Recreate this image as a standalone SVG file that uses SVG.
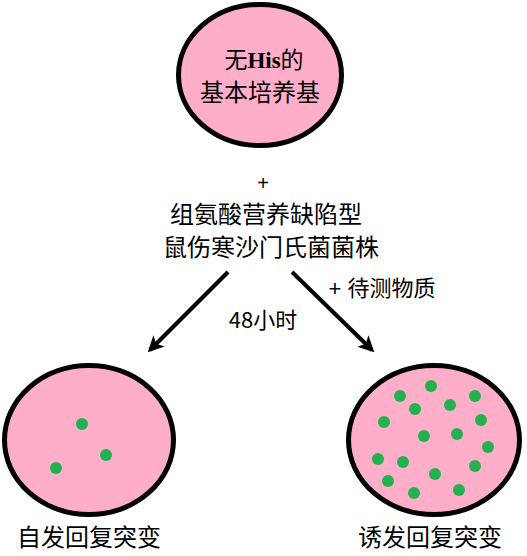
<svg xmlns="http://www.w3.org/2000/svg" width="527" height="556" viewBox="0 0 527 556">
<style>
.dish{fill:#FFAEC9;stroke:#000;stroke-width:5}
.col{fill:#22B14C}
.t{font-family:"Noto Sans CJK SC","Noto Sans",sans-serif;fill:#000;text-anchor:middle}
.p{font-family:"Liberation Sans",sans-serif}
.c{stroke:#000;stroke-width:4;fill:none}
</style>
<defs>
<marker id="ah" viewBox="0 0 10 10" refX="8" refY="5" markerWidth="4" markerHeight="4" orient="auto" markerUnits="strokeWidth">
<path d="M0,0 L10,5 L0,10 L2.5,5 z" fill="#000"/>
</marker>
</defs>
<g id="medium">
<ellipse class="dish" cx="260" cy="75" rx="81.5" ry="70.5"/>
<text class="t" x="264" y="68" font-size="23"><tspan>无</tspan><tspan font-family="Liberation Serif,serif" font-weight="bold">His</tspan><tspan>的</tspan></text>
<text class="t" x="260" y="101" font-size="24">基本培养基</text>
</g>
<g id="strain">
<text class="t p" x="263" y="190" font-size="20">+</text>
<text class="t" x="266" y="223" font-size="24">组氨酸营养缺陷型</text>
<text class="t" x="271" y="256" font-size="24">鼠伤寒沙门氏菌菌株</text>
</g>
<g id="connectors">
<line class="c" x1="228" y1="272" x2="150" y2="350" marker-end="url(#ah)"/>
<line class="c" x1="292" y1="272" x2="372" y2="350" marker-end="url(#ah)"/>
<text class="t" x="263" y="328" font-size="22">48小时</text>
<text class="t" x="382" y="296" font-size="22"><tspan class="p">+ </tspan>待测物质</text>
</g>
<g id="spontaneous">
<ellipse class="dish" cx="89" cy="440" rx="84.5" ry="74.5"/>
<circle class="col" cx="82" cy="424" r="6"/>
<circle class="col" cx="106" cy="455" r="6"/>
<circle class="col" cx="56" cy="468" r="6"/>
<text class="t" x="89" y="546" font-size="24">自发回复突变</text>
</g>
<g id="induced">
<ellipse class="dish" cx="434" cy="440" rx="85.5" ry="74.5"/>
<circle class="col" cx="431" cy="386" r="6"/>
<circle class="col" cx="400" cy="396" r="6"/>
<circle class="col" cx="475" cy="396" r="6"/>
<circle class="col" cx="415" cy="409" r="6"/>
<circle class="col" cx="450" cy="405" r="6"/>
<circle class="col" cx="384" cy="422" r="6"/>
<circle class="col" cx="481" cy="420" r="6"/>
<circle class="col" cx="424" cy="436" r="6"/>
<circle class="col" cx="457" cy="434" r="6"/>
<circle class="col" cx="488" cy="447" r="6"/>
<circle class="col" cx="378" cy="459" r="6"/>
<circle class="col" cx="403" cy="462" r="6"/>
<circle class="col" cx="475" cy="466" r="6"/>
<circle class="col" cx="388" cy="481" r="6"/>
<circle class="col" cx="435" cy="474" r="6"/>
<circle class="col" cx="414" cy="493" r="6"/>
<circle class="col" cx="459" cy="490" r="6"/>
<text class="t" x="430" y="546" font-size="24">诱发回复突变</text>
</g>
</svg>
